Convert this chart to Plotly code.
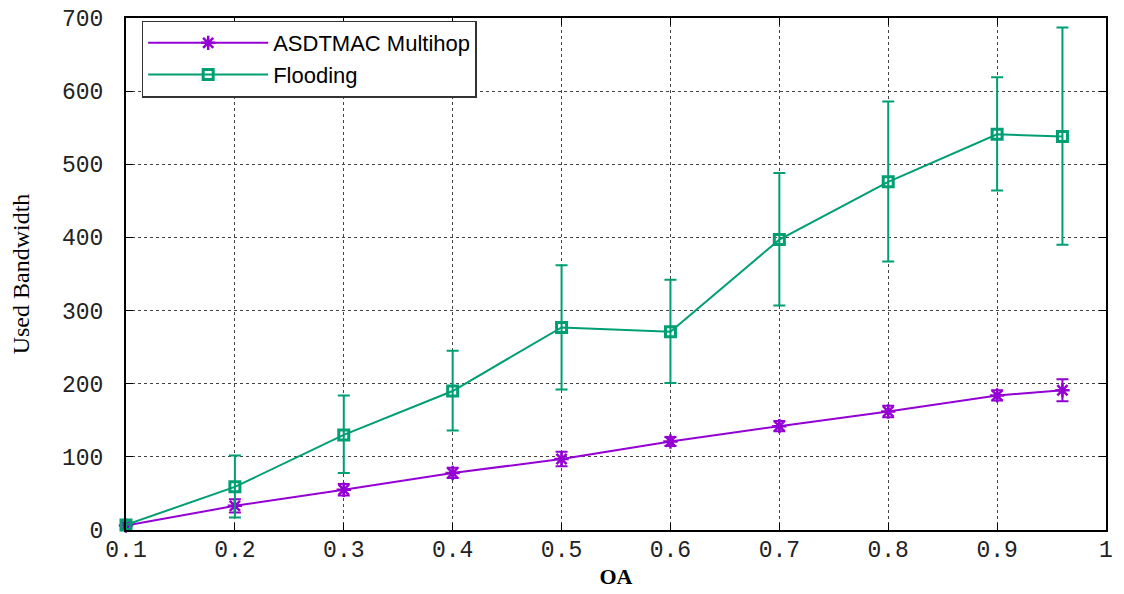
import plotly.graph_objects as go

# OA values on the x axis
oa = [0.1, 0.2, 0.3, 0.4, 0.5, 0.6, 0.7, 0.8, 0.9, 0.96]

# ASDTMAC Multihop: mean and error (plus / minus)
multihop = [6, 33, 55, 78, 97, 121, 142, 162, 184, 191]
multihop_err = [4, 9, 8, 7, 10, 6, 7, 8, 7, 15]

# Flooding: mean and asymmetric error bars
flooding = [7, 59, 130, 190, 277, 271, 397, 476, 541, 538]
flooding_hi = [6, 43, 54, 55, 85, 71, 91, 110, 78, 149]
flooding_lo = [6, 42, 52, 54, 85, 70, 90, 109, 77, 148]

PURPLE = "#9400D3"
GREEN = "#009E73"

fig = go.Figure()

fig.add_trace(go.Scatter(
    x=oa, y=multihop,
    name="ASDTMAC Multihop",
    mode="lines+markers",
    line=dict(color=PURPLE, width=2),
    marker=dict(symbol="asterisk-open", size=12, color=PURPLE,
                line=dict(color=PURPLE, width=2.5)),
    error_y=dict(type="data", array=multihop_err, color=PURPLE,
                 thickness=2, width=6),
    cliponaxis=False,
))

fig.add_trace(go.Scatter(
    x=oa, y=flooding,
    name="Flooding",
    mode="lines+markers",
    line=dict(color=GREEN, width=2),
    marker=dict(symbol="square-open", size=10, color=GREEN,
                line=dict(color=GREEN, width=3)),
    error_y=dict(type="data", symmetric=False, array=flooding_hi,
                 arrayminus=flooding_lo, color=GREEN, thickness=2, width=6),
    cliponaxis=False,
))

tick_font = dict(family="Liberation Mono", size=23, color="#222")

fig.update_xaxes(
    range=[0.1, 1], dtick=0.1, tick0=0.1,
    tickformat=".1~f",
    automargin=False, ticklabeloverflow="allow",
    showline=True, linecolor="black", linewidth=2, mirror="ticks",
    ticks="inside", ticklen=7, tickcolor="black", ticklabelstandoff=-3,
    showgrid=True, gridcolor="#444", griddash="dot", gridwidth=1,
    zeroline=False,
    tickfont=tick_font,
    title=dict(text="<b>OA</b>", font=dict(family="Liberation Serif", size=22, color="black"),
               standoff=6),
)
fig.update_yaxes(
    range=[0, 700], dtick=100,
    automargin=False, ticklabeloverflow="allow",
    showline=True, linecolor="black", linewidth=2, mirror="ticks",
    ticks="inside", ticklen=7, tickcolor="black", ticklabelstandoff=16,
    showgrid=True, gridcolor="#444", griddash="dot", gridwidth=1,
    zeroline=False,
    tickfont=tick_font,
    title=dict(text="Used Bandwidth", font=dict(family="Liberation Serif", size=24, color="black"),
               standoff=28),
)

# page body adds an 8px offset, so margins are shifted to land the plot area in place
fig.update_layout(
    width=1124, height=594,
    margin=dict(l=118, r=26, t=10, b=72),
    plot_bgcolor="white", paper_bgcolor="white",
    showlegend=True,
    legend=dict(
        x=0.016, y=0.995, xanchor="left", yanchor="top",
        bgcolor="white", bordercolor="#333", borderwidth=1.5,
        font=dict(family="Liberation Sans", size=22, color="black"),
        tracegroupgap=0, itemwidth=120,
    ),
)

fig.write_html("out.html")
